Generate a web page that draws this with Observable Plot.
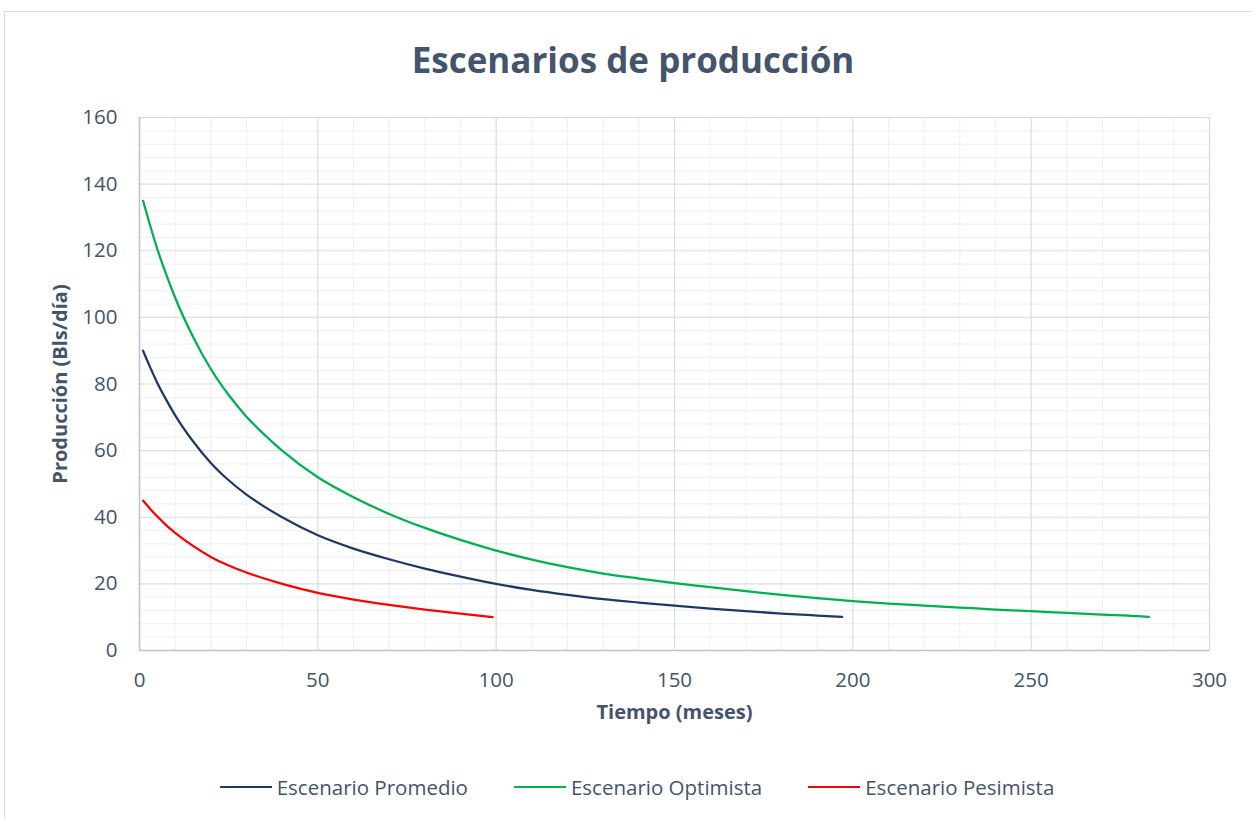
<!DOCTYPE html>
<html>
<head>
<meta charset="utf-8">
<script src="https://cdn.jsdelivr.net/npm/d3@7"></script>
<script src="https://cdn.jsdelivr.net/npm/@observablehq/plot@0.6"></script>
<style>
  html, body { margin: 0; padding: 0; background: #fff; }
  #wrap { position: relative; width: 1252px; height: 819px; overflow: hidden; font-family: "Open Sans", sans-serif; }
  #border { position: absolute; left: 4px; top: 11px; width: 1300px; height: 900px; border: 1px solid #d9d9d9; box-sizing: border-box; }
  #title { position: absolute; left: 0; top: 38px; width: 1266px; text-align: center; font-size: 35px; line-height: 44px; font-weight: 700; color: #44546a; }
  #chart { position: absolute; left: 0; top: 100px; }
  #legend { position: absolute; left: 0; top: 775px; width: 1274px; display: flex; justify-content: center; gap: 46px; font-size: 20.5px; line-height: 24px; color: #44546a; }
  .item { display: flex; align-items: center; }
  .sw { width: 52px; height: 0; border-top: 2.25px solid; margin-right: 5px; }
</style>
</head>
<body>
<div id="wrap">
  <div id="border"></div>
  <div id="title"></div>
  <div id="chart"></div>
  <div id="legend"></div>
</div>
<script>
const titleText = "Escenarios de producción";
const xLabel = "Tiempo (meses)";
const yLabel = "Producción (Bls/día)";

const seriesNames = ["Escenario Promedio", "Escenario Optimista", "Escenario Pesimista"];
const seriesColors = ["#203864", "#00b050", "#ff0000"];

const xTicks = [0, 50, 100, 150, 200, 250, 300];
const yTicks = [0, 20, 40, 60, 80, 100, 120, 140, 160];
const xMinorTicks = [10,20,30,40,60,70,80,90,110,120,130,140,160,170,180,190,210,220,230,240,260,270,280,290];
const yMinorTicks = [4,8,12,16,24,28,32,36,44,48,52,56,64,68,72,76,84,88,92,96,104,108,112,116,124,128,132,136,144,148,152,156];

const mesesPromedio = [1, 3, 5, 7, 10, 15, 20, 25, 30, 35, 40, 50, 60, 70, 80, 90, 100, 110, 120, 130, 140, 150, 160, 170, 180, 190, 197];
const prodPromedio  = [90, 85, 80.3, 76.2, 70.6, 62.8, 56.3, 51.1, 46.8, 43.2, 40, 34.6, 30.6, 27.4, 24.6, 22.2, 20, 18.2, 16.7, 15.4, 14.4, 13.5, 12.6, 11.8, 11.1, 10.5, 10.1];

const mesesOptimista = [1, 3, 5, 7, 10, 15, 20, 25, 30, 35, 40, 50, 60, 70, 80, 90, 100, 110, 120, 130, 140, 150, 160, 170, 180, 190, 200, 210, 220, 230, 240, 250, 260, 270, 280, 283];
const prodOptimista  = [135, 127.5, 120.5, 114.3, 105.9, 94.2, 84.5, 76.7, 70.2, 64.8, 60, 52, 46, 41, 36.8, 33.2, 30, 27.3, 25, 23.1, 21.6, 20.2, 19, 17.8, 16.7, 15.7, 14.8, 14.1, 13.5, 12.9, 12.3, 11.8, 11.3, 10.8, 10.3, 10.1];

const mesesPesimista = [1, 3, 5, 7, 10, 15, 20, 25, 30, 35, 40, 50, 60, 70, 80, 90, 99];
const prodPesimista  = [45, 42.5, 40.2, 38.1, 35.3, 31.4, 28.1, 25.5, 23.4, 21.6, 20, 17.3, 15.3, 13.7, 12.3, 11.1, 10];

const rows = [];
mesesPromedio.forEach((t, i) => rows.push({serie: seriesNames[0], t, q: prodPromedio[i]}));
mesesOptimista.forEach((t, i) => rows.push({serie: seriesNames[1], t, q: prodOptimista[i]}));
mesesPesimista.forEach((t, i) => rows.push({serie: seriesNames[2], t, q: prodPesimista[i]}));

document.getElementById("title").textContent = titleText;

const plot = Plot.plot({
  width: 1252,
  height: 650,
  marginLeft: 139,
  marginRight: 43,
  marginTop: 17,
  marginBottom: 100,
  style: {fontFamily: "'Open Sans', sans-serif", fontSize: "20.5px", color: "#44546a", background: "transparent"},
  x: {domain: [0, 300]},
  y: {domain: [0, 160]},
  color: {domain: seriesNames, range: seriesColors},
  marks: [
    Plot.ruleX(xMinorTicks, {stroke: "#eef0f4", strokeWidth: 1}),
    Plot.ruleY(yMinorTicks, {stroke: "#eef0f4", strokeWidth: 1}),
    Plot.ruleX(xTicks, {stroke: "#d9dde5", strokeWidth: 1.2}),
    Plot.ruleY(yTicks, {stroke: "#d9dde5", strokeWidth: 1.2}),
    Plot.frame({stroke: "#d3d8e0"}),
    Plot.ruleX([0], {stroke: "#bcc3cf", strokeWidth: 1.5}),
    Plot.ruleY([0], {stroke: "#bcc3cf", strokeWidth: 1.5}),
    Plot.axisX({ticks: xTicks, tickSize: 0, tickPadding: 22, label: null, fill: "#44546a"}),
    Plot.axisY({ticks: yTicks, tickSize: 0, tickPadding: 22, label: null, fill: "#44546a"}),
    Plot.text([xLabel], {frameAnchor: "bottom", dy: 68, fontWeight: "bold", fontSize: 20, fill: "#44546a"}),
    Plot.text([yLabel], {frameAnchor: "left", textAnchor: "middle", dx: -79, rotate: -90, fontWeight: "bold", fontSize: 20, fill: "#44546a"}),
    Plot.line(rows, {x: "t", y: "q", z: "serie", stroke: "serie", curve: "monotone-x", strokeWidth: 2.25})
  ]
});
document.getElementById("chart").appendChild(plot);

const legend = document.getElementById("legend");
seriesNames.forEach((name, i) => {
  const item = document.createElement("div");
  item.className = "item";
  const sw = document.createElement("span");
  sw.className = "sw";
  sw.style.borderTopColor = seriesColors[i];
  const lab = document.createElement("span");
  lab.textContent = name;
  item.appendChild(sw);
  item.appendChild(lab);
  legend.appendChild(item);
});
</script>
</body>
</html>
